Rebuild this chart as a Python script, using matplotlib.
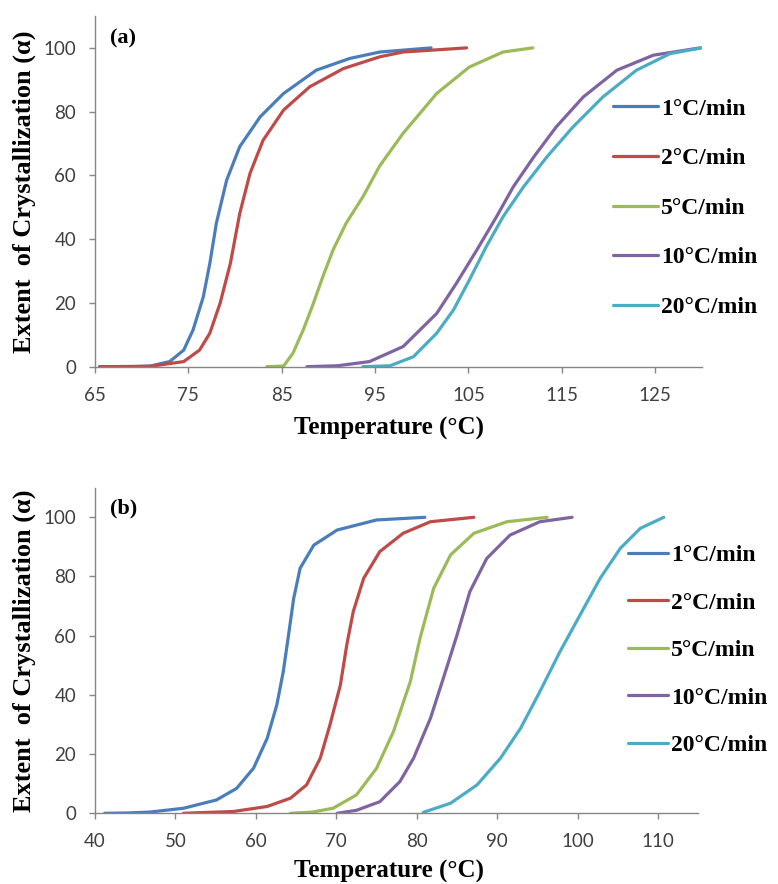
import matplotlib.pyplot as plt

# === Data: temperature (C) vs extent of crystallization (%) ===
labels = ["1°C/min", "2°C/min", "5°C/min", "10°C/min", "20°C/min"]
colors = ["#4A7EBB", "#BE4B48", "#9BBB59", "#8064A2", "#4BACC6"]

# panel (a)
a_t_1 = [65.5, 69, 70.9, 73.0, 74.5, 75.5, 76.6, 77.3, 78.0, 79.1, 80.5, 82.7, 85.2, 88.7, 92.3, 95.5, 101]
a_y_1 = [0, 0.05, 0.2, 1.6, 5.2, 11.5, 21.9, 32.4, 45, 58.5, 69, 78.4, 85.7, 93, 96.7, 98.7, 100]
a_t_2 = [65.5, 70.9, 74.5, 76.2, 77.3, 78.4, 79.5, 80.5, 81.6, 83.0, 85.2, 88.0, 91.6, 95.5, 98.0, 104.8]
a_y_2 = [0, 0.1, 1.6, 5.2, 10.5, 19.9, 32.4, 48, 60.6, 71, 80.5, 87.8, 93.5, 97.2, 98.7, 100]
a_t_5 = [83.4, 85.2, 86.2, 87.3, 88.4, 89.4, 90.5, 91.9, 93.7, 95.5, 98.0, 101.6, 105.1, 108.7, 111.9]
a_y_5 = [0, 0.2, 4.2, 11.5, 19.9, 28.2, 36.6, 45, 53.3, 63, 73.2, 85.7, 94, 98.7, 100]
a_t_10 = [87.7, 91, 94.4, 98.0, 101.6, 103.7, 105.9, 108.0, 109.8, 112.0, 114.4, 117.3, 120.9, 124.8, 129.8]
a_y_10 = [0, 0.3, 1.6, 6.3, 16.7, 26.1, 36.6, 47, 56.4, 65.8, 75.2, 84.6, 93, 97.7, 100]
a_t_20 = [93.7, 96.6, 99.1, 101.6, 103.4, 105.1, 106.9, 108.7, 110.9, 113.4, 116.2, 119.4, 123.0, 126.6, 130]
a_y_20 = [0, 0.3, 3.1, 10.5, 17.8, 27.2, 37.6, 47, 56.4, 65.8, 75.2, 84.6, 93, 98.2, 100]

# panel (b)
b_t_1 = [41.2, 44, 46.8, 51.0, 55.1, 57.6, 59.7, 61.4, 62.6, 63.4, 64.0, 64.7, 65.5, 67.2, 70.1, 75.0, 81.0]
b_y_1 = [0, 0.1, 0.4, 1.7, 4.5, 8.4, 15.2, 25.3, 36.6, 47.8, 59.1, 72.6, 82.8, 90.6, 95.7, 99.1, 100]
b_t_2 = [51.0, 57.2, 61.4, 64.3, 66.3, 68.0, 69.2, 70.5, 71.3, 72.1, 73.4, 75.4, 78.3, 81.7, 87.1]
b_y_2 = [0, 0.6, 2.3, 5.1, 9.6, 18.6, 29.8, 43.3, 56.9, 68.1, 79.4, 88.4, 94.6, 98.5, 100]
b_t_5 = [64.3, 67, 69.6, 72.5, 75.0, 77.1, 79.2, 80.4, 82.1, 84.2, 87.1, 91.2, 96.2]
b_y_5 = [0, 0.4, 1.7, 6.2, 15.2, 27.6, 44.5, 59.1, 76, 87.3, 94.6, 98.5, 100]
b_t_10 = [70.1, 72.5, 75.4, 77.9, 79.6, 81.7, 83.3, 85.0, 86.6, 88.7, 91.6, 95.3, 99.3]
b_y_10 = [0, 1, 3.9, 10.7, 18.6, 32.1, 45.6, 60.2, 74.9, 86.1, 94, 98.5, 100]
b_t_20 = [80.8, 84.2, 87.5, 90.4, 92.9, 95.3, 97.8, 100.3, 102.8, 105.3, 107.8, 110.7]
b_y_20 = [0.3, 3.4, 9.6, 18.6, 28.7, 41.1, 54.6, 67, 79.4, 89.5, 96.3, 100]

a_series = [(a_t_1, a_y_1), (a_t_2, a_y_2), (a_t_5, a_y_5), (a_t_10, a_y_10), (a_t_20, a_y_20)]
b_series = [(b_t_1, b_y_1), (b_t_2, b_y_2), (b_t_5, b_y_5), (b_t_10, b_y_10), (b_t_20, b_y_20)]

a_xticks = [65, 75, 85, 95, 105, 115, 125]
b_xticks = [40, 50, 60, 70, 80, 90, 100, 110]
yticks = [0, 20, 40, 60, 80, 100]

SERIF = "Liberation Serif"
TICKFONT = "Lato"

fig = plt.figure(figsize=(7.78, 8.84), dpi=100)
ax_a = fig.add_axes([0.1221, 0.5852, 0.7800, 0.3967])
ax_b = fig.add_axes([0.1221, 0.0800, 0.7755, 0.3683])


def style_axes(ax, series, xlim, xticks, tag, leg_anchor, leg_space, handle_len,
               xlab_pos, ylab_x):
    for (t, y), lab, c in zip(series, labels, colors):
        ax.plot(t, y, color=c, lw=2.3, label=lab, solid_capstyle="round",
                solid_joinstyle="round")
    ax.set_xlim(*xlim)
    ax.set_ylim(0, 110)
    ax.set_xticks(xticks)
    ax.set_yticks(yticks)
    for s in ["top", "right"]:
        ax.spines[s].set_visible(False)
    for s in ["left", "bottom"]:
        ax.spines[s].set_color("#868686")
        ax.spines[s].set_linewidth(1.0)
    ax.tick_params(direction="out", length=4.5, width=1.0, color="#868686",
                   labelsize=13.5, labelcolor="#404040")
    ax.tick_params(axis="x", pad=10)
    ax.tick_params(axis="y", pad=9)
    for lbl in ax.get_xticklabels() + ax.get_yticklabels():
        lbl.set_fontfamily(TICKFONT)
    ax.set_xlabel("Temperature (°C)", fontfamily=SERIF, fontweight="bold",
                  fontsize=18, va="center")
    ax.xaxis.set_label_coords(*xlab_pos)
    ax.set_ylabel("Extent  of Crystallization (α)", fontfamily=SERIF,
                  fontweight="bold", fontsize=19, va="center")
    ax.yaxis.set_label_coords(ylab_x, 0.5)
    ax.text(0.025, 0.935, tag, transform=ax.transAxes, fontfamily=SERIF,
            fontweight="bold", fontsize=16, va="center", ha="left")
    ax.legend(loc="upper left", bbox_to_anchor=leg_anchor, frameon=False,
              prop={"family": SERIF, "weight": "bold", "size": 17},
              handlelength=handle_len, handletextpad=0.13, labelspacing=leg_space,
              borderpad=0, borderaxespad=0)


style_axes(ax_a, a_series, (65, 130), a_xticks, "(a)", (0.854, 0.766), 1.19, 1.9,
           (0.485, -0.175), -0.117)
style_axes(ax_b, b_series, (40, 115), b_xticks, "(b)", (0.883, 0.825), 1.10, 1.7,
           (0.488, -0.179), -0.118)

fig.savefig("out.png", dpi=100)
